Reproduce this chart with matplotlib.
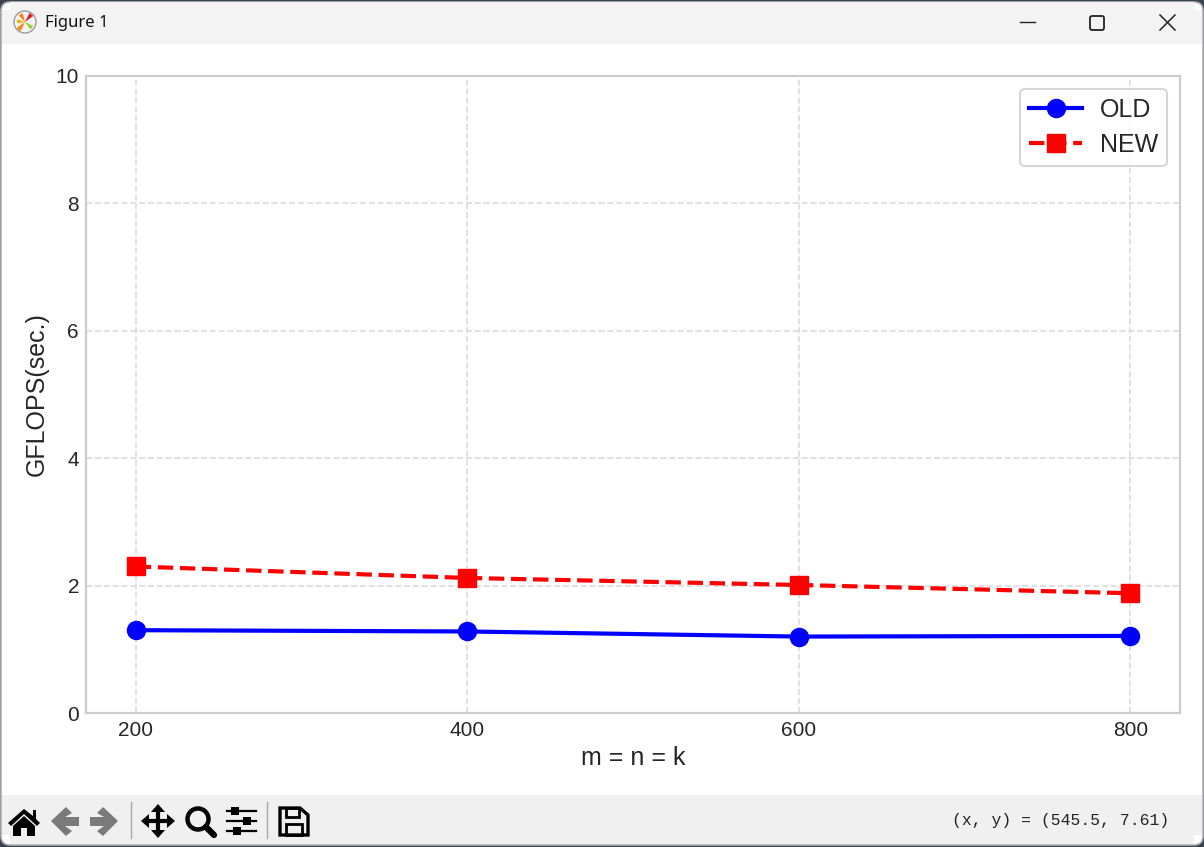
import matplotlib
matplotlib.use("Agg")
import matplotlib.pyplot as plt
from matplotlib.patches import Rectangle, Polygon, Circle, Wedge, FancyBboxPatch

x_values = [200, 400, 600, 800]
old_values = [1.30, 1.28, 1.20, 1.21]
new_values = [2.30, 2.12, 2.01, 1.88]
x_ticks = [200, 400, 600, 800]
y_ticks = [0, 2, 4, 6, 8, 10]

W, H = 1204, 847
TXT = '#262626'
plt.rcParams['font.family'] = ['Liberation Sans', 'DejaVu Sans']
fig = plt.figure(figsize=(W/100, H/100), dpi=100, facecolor='#3a4250')

# window chrome, in pixel coordinates
c = fig.add_axes([0, 0, 1, 1], zorder=0)
c.set_xlim(0, W); c.set_ylim(H, 0); c.axis('off')
c.add_patch(FancyBboxPatch((9, 10), W-18, H-20, boxstyle='round,pad=8,rounding_size=9',
                           fc='white', ec='#b0b0b0', lw=1.2, mutation_aspect=1))
c.add_patch(Rectangle((2, 10), W-4, 34, fc='#f3f3f3', lw=0))
c.add_patch(Rectangle((10, 2), W-20, 10, fc='#f3f3f3', lw=0))
c.add_patch(Rectangle((2, 795), W-4, 40, fc='#f0f0f0', lw=0))
c.add_patch(Rectangle((10, 830), W-20, 14, fc='#f0f0f0', lw=0))
c.text(45, 23, 'Figure 1', fontsize=12, va='center', family=['Noto Sans', 'DejaVu Sans'], color='#111111')
c.text(1169, 820, '(x, y) = (545.5, 7.61)', fontsize=11.8, va='center', ha='right',
       family=['Liberation Mono', 'DejaVu Sans Mono'], color='#222222')

# title-bar logo
c.add_patch(Circle((25, 22), 11, fc='#f4f4f4', ec='#9a9a9a', lw=1))
for a, col, r in [(130, '#ff7f0e', 10), (240, '#ff7f0e', 9), (40, '#9acd32', 9), (185, '#e8b000', 8), (310, '#d62728', 10)]:
    c.add_patch(Wedge((25, 22), r, a-14, a+14, fc=col, lw=0))

# window buttons
c.plot([1020, 1035], [22, 22], color='#222222', lw=1)
c.add_patch(FancyBboxPatch((1090, 16), 14, 14, boxstyle='round,pad=0,rounding_size=2', fc='none', ec='#222222', lw=1.3))
c.plot([1160, 1175], [15, 30], color='#222222', lw=1.1)
c.plot([1160, 1175], [30, 15], color='#222222', lw=1.1)

# toolbar icons
K = 'black'; G = '#7a7a7a'
c.add_patch(Polygon([(8, 823), (24, 809), (33, 816), (33, 810), (36, 810), (36, 819), (40, 823), (37, 826), (24, 814), (11, 826)], fc=K, lw=0))
c.add_patch(Polygon([(13, 826), (24, 816), (35, 826), (35, 836), (27, 836), (27, 828), (21, 828), (21, 836), (13, 836)], fc=K, lw=0))
c.add_patch(Polygon([(51, 821), (66, 807), (72, 813), (65, 817), (79, 817), (79, 826), (65, 826), (72, 831), (66, 836)], fc=G, lw=0))
c.add_patch(Polygon([(118, 821), (103, 807), (97, 813), (104, 817), (90, 817), (90, 826), (104, 826), (97, 831), (103, 836)], fc=G, lw=0))
c.plot([131, 131], [802, 838], color='#a8a8a8', lw=1)
c.plot([267, 267], [802, 838], color='#a8a8a8', lw=1)
c.plot([147, 170], [821, 821], color=K, lw=3)
c.plot([158, 158], [810, 833], color=K, lw=3)
c.add_patch(Polygon([(141, 821), (149, 814), (149, 828)], fc=K, lw=0))
c.add_patch(Polygon([(175, 821), (167, 814), (167, 828)], fc=K, lw=0))
c.add_patch(Polygon([(158, 804), (151, 812), (165, 812)], fc=K, lw=0))
c.add_patch(Polygon([(158, 838), (151, 830), (165, 830)], fc=K, lw=0))
c.add_patch(Circle((198, 819), 10.5, fc='none', ec=K, lw=3.2))
c.plot([206, 214], [827, 835], color=K, lw=4.5, solid_capstyle='round')
for yy, xx in [(811, 235), (821, 247), (831, 237)]:
    c.plot([227, 256], [yy, yy], color=K, lw=1.6)
    c.add_patch(Rectangle((xx-4, yy-4), 8, 8, fc=K, lw=0))
c.add_patch(Polygon([(280, 808), (300, 808), (308, 815), (308, 835), (280, 835)], fc='none', ec=K, lw=2.4))
c.add_patch(Rectangle((286, 808), 13, 9, fc='none', ec=K, lw=2))
c.add_patch(Rectangle((286, 824), 16, 11, fc='none', ec=K, lw=2))

# chart
ax = fig.add_axes([86/W, 1-713/H, (1180-86)/W, (713-76)/H], zorder=2)
ax.set_facecolor('white')
ax.plot(x_values, old_values, '-o', color='blue', lw=3, ms=13, label='OLD')
ax.plot(x_values, new_values, '--s', color='red', lw=3, ms=13, label='NEW')
ax.set_xlim(170, 830)
ax.set_ylim(0, 10)
ax.set_xticks(x_ticks)
ax.set_yticks(y_ticks)
ax.tick_params(axis='x', labelsize=15, length=0, pad=6, colors=TXT)
ax.tick_params(axis='y', labelsize=15, length=0, pad=5, colors=TXT)
ax.grid(True, ls='--', color='#dcdcdc', lw=1.2)
for s in ax.spines.values():
    s.set_color('#cccccc'); s.set_linewidth(1.6)
ax.set_xlabel('m = n = k', fontsize=18, color=TXT, labelpad=4)
ax.set_ylabel('GFLOPS(sec.)', fontsize=18, color=TXT, labelpad=5)
leg = ax.legend(loc='upper right', fontsize=18, framealpha=0.8, edgecolor='#cccccc',
                handlelength=2.1, handletextpad=0.72, labelspacing=0.45, borderpad=0.36,
                borderaxespad=0.52)
leg.get_frame().set_linewidth(1.5)
for t in leg.get_texts():
    t.set_color(TXT)
fig.savefig('out.png', dpi=100)
